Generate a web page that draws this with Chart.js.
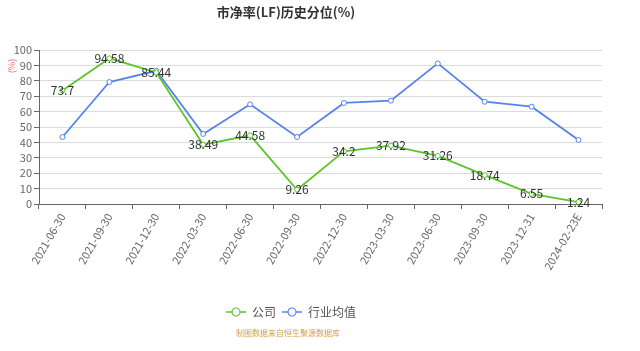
<!DOCTYPE html>
<html><head><meta charset="utf-8">
<script src="https://cdn.jsdelivr.net/npm/chart.js@4.4.1/dist/chart.umd.min.js"></script>
<style>html,body{margin:0;padding:0;background:#fff}#c{display:block}</style>
</head><body>
<canvas id="c" width="640" height="351"></canvas>
<script>
const categories = ["2021-06-30","2021-09-30","2021-12-30","2022-03-30","2022-06-30","2022-09-30","2022-12-30","2023-03-30","2023-06-30","2023-09-30","2023-12-31","2024-02-23E"];
const companyValues = [73.7, 94.58, 85.44, 38.49, 44.58, 9.26, 34.2, 37.92, 31.26, 18.74, 6.55, 1.24];
const industryValues = [43.5, 79.2, 86.5, 45.5, 64.7, 43.5, 65.6, 67.1, 91.3, 66.4, 63.2, 41.6];
const yTicks = [0,10,20,30,40,50,60,70,80,90,100];
const seriesNames = ["公司", "行业均值"];
const titleText = "市净率(LF)历史分位(%)";
const sourceText = "制图数据来自恒生聚源数据库";

const FONT = '"Noto Sans CJK SC", "Noto Sans", sans-serif';
const GREEN = '#5cc52c';
const BLUE = '#5484ea';

function markerImg(color){
  const c = document.createElement('canvas');
  c.width = 20; c.height = 10;
  const x = c.getContext('2d');
  x.strokeStyle = color; x.lineWidth = 1.5;
  x.beginPath(); x.moveTo(0,5); x.lineTo(20,5); x.stroke();
  x.fillStyle = '#fff'; x.lineWidth = 1.2;
  x.beginPath(); x.arc(10,5,4,0,Math.PI*2); x.fill(); x.stroke();
  return c;
}

const extras = {
  id: 'extras',
  afterDatasetsDraw(chart){
    const ctx = chart.ctx;
    const meta = chart.getDatasetMeta(0);
    ctx.save();
    ctx.font = '12px ' + FONT;
    ctx.fillStyle = '#333';
    ctx.textAlign = 'center';
    ctx.textBaseline = 'middle';
    meta.data.forEach((p, i) => {
      ctx.fillText(String(companyValues[i]), p.x, p.y);
    });
    ctx.restore();
  },
  afterDraw(chart){
    const ctx = chart.ctx;
    ctx.save();
    ctx.font = 'bold 13px ' + FONT;
    ctx.fillStyle = '#333';
    ctx.textAlign = 'center';
    ctx.textBaseline = 'middle';
    ctx.fillText(titleText, 286, 12);
    ctx.save();
    ctx.translate(12, 66);
    ctx.rotate(-Math.PI/2);
    ctx.font = '9px ' + FONT;
    ctx.fillStyle = '#f07070';
    ctx.fillText('(%)', 0, 0);
    ctx.restore();
    ctx.font = '12px ' + FONT;
    ctx.fillStyle = '#555';
    ctx.textAlign = 'left';
    const items = [{c:GREEN, x:227}, {c:BLUE, x:283}];
    items.forEach((it, i) => {
      ctx.drawImage(markerImg(it.c), it.x - 1, 307);
      ctx.fillText(seriesNames[i], it.x + 25, 312);
    });
    ctx.font = '8px ' + FONT;
    ctx.fillStyle = '#d4a04a';
    ctx.textAlign = 'center';
    ctx.fillText(sourceText, 288, 333);
    ctx.restore();
  }
};

new Chart(document.getElementById('c'), {
  type: 'line',
  data: {
    labels: categories,
    datasets: [
      {label: seriesNames[0], data: companyValues, borderColor: GREEN, backgroundColor: '#fff',
       borderWidth: 1.8, pointRadius: 2.5, pointBorderWidth: 1, pointBackgroundColor: '#fff', pointBorderColor: GREEN, tension: 0},
      {label: seriesNames[1], data: industryValues, borderColor: BLUE, backgroundColor: '#fff',
       borderWidth: 1.8, pointRadius: 2.5, pointBorderWidth: 1, pointBackgroundColor: '#fff', pointBorderColor: BLUE, tension: 0}
    ]
  },
  options: {
    responsive: false,
    animation: false,
    layout: {padding: {top: 50, right: 38, left: 0, bottom: 0}},
    plugins: {legend: {display: false}, title: {display: false}, tooltip: {enabled: false}},
    scales: {
      x: {
        offset: true,
        grid: {drawOnChartArea: false, drawTicks: true, tickLength: 5, tickColor: '#666', offset: true},
        border: {color: '#666'},
        ticks: {maxRotation: 60, minRotation: 60, autoSkip: false, color: '#666', font: {size: 11, family: FONT}, padding: 2},
        afterFit(s){ s.height = 147; }
      },
      y: {
        min: yTicks[0], max: yTicks[yTicks.length - 1],
        grid: {color: '#dcdcdc', tickLength: 5, tickColor: '#666'},
        border: {color: '#666'},
        ticks: {stepSize: yTicks[1] - yTicks[0], autoSkip: false, color: '#666', font: {size: 11, family: FONT}, padding: 2},
        afterFit(s){ s.width = 39; }
      }
    }
  },
  plugins: [extras]
});
</script>
</body></html>
